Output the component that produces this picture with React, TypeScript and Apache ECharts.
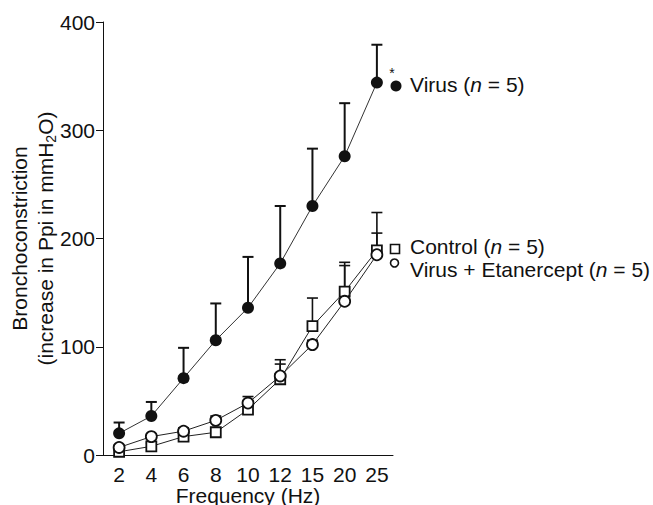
import React, { useEffect, useRef } from "react";
import * as echarts from "echarts";

const categories = ["2", "4", "6", "8", "10", "12", "15", "20", "25"];
const yTicks = [0, 100, 200, 300, 400];

const virusMean = [20, 36, 71, 106, 136, 177, 230, 276, 344];
const virusTop = [30, 49, 99, 140, 183, 230, 283, 325, 379];

const controlMean = [3, 8, 17, 21, 42, 70, 119, 151, 189];
const controlTop = [6, 11, 20, 25, 50, 84, 145, 178, 224];

const etanMean = [7, 17, 22, 32, 48, 73, 102, 142, 185];
const etanTop = [9, 19, 25, 36, 54, 88, 106, 175, 205];

const FONT = "'Liberation Sans', Arial, Helvetica, sans-serif";
const FS = 21;

function errorSeries(name: string, mean: number[], top: number[], width: number) {
  return {
    type: "custom",
    name,
    z: 1,
    silent: true,
    data: mean.map((m, i) => [i, m, top[i]]),
    renderItem: (_params: any, api: any) => {
      const i = api.value(0);
      const p0 = api.coord([i, api.value(1)]);
      const p1 = api.coord([i, api.value(2)]);
      const half = 5.5;
      return {
        type: "group",
        children: [
          {
            type: "line",
            shape: { x1: p0[0], y1: p0[1], x2: p1[0], y2: p1[1] },
            style: { stroke: "#111", lineWidth: width },
          },
          {
            type: "line",
            shape: { x1: p1[0] - half, y1: p1[1], x2: p1[0] + half, y2: p1[1] },
            style: { stroke: "#111", lineWidth: width },
          },
        ],
      };
    },
  };
}

export default function App() {
  const ref = useRef<HTMLDivElement>(null);
  useEffect(() => {
    if (!ref.current) return;
    const chart = echarts.init(ref.current, null, { renderer: "svg" });
    const rich = { i: { fontStyle: "italic", fontSize: FS, fontFamily: FONT, color: "#111" } };
    chart.setOption({
      animation: false,
      backgroundColor: "#fff",
      textStyle: { fontFamily: FONT },
      grid: { left: 103, right: 260, top: 22, bottom: 50, containLabel: false, outerBoundsMode: "none" },
      xAxis: {
        type: "category",
        data: categories,
        boundaryGap: true,
        axisLine: { lineStyle: { color: "#111", width: 1 } },
        axisTick: { alignWithLabel: true, length: 5, lineStyle: { color: "#111" } },
        axisLabel: { color: "#111", fontSize: FS, lineHeight: 20, margin: 9, fontFamily: FONT, interval: 0 },
        name: "Frequency (Hz)",
        nameLocation: "middle",
        nameGap: 30,
        nameMoveOverlap: false,
        nameTextStyle: { color: "#111", fontSize: FS, lineHeight: 20, fontFamily: FONT },
        splitLine: { show: false },
      },
      yAxis: {
        type: "value",
        min: 0,
        max: 400,
        interval: 100,
        axisLine: { show: true, lineStyle: { color: "#111", width: 1 } },
        axisTick: { show: true, length: 7, lineStyle: { color: "#111" } },
        axisLabel: {
          color: "#111",
          fontSize: FS,
          margin: 8,
          fontFamily: FONT,
          customValues: yTicks,
        },
        splitLine: { show: false },
        name: "{a|Bronchoconstriction}\n{a|(increase in Ppi in mmH}{s|2}{a|O)}",
        nameLocation: "middle",
        nameRotate: 90,
        nameGap: 45,
        nameMoveOverlap: false,
        nameTextStyle: {
          color: "#111",
          fontSize: FS,
          fontFamily: FONT,
          rich: {
            a: { fontSize: FS, lineHeight: 26, color: "#111", fontFamily: FONT },
            s: { fontSize: 14, lineHeight: 18, verticalAlign: "bottom", color: "#111", fontFamily: FONT },
          },
        },
      },
      series: [
        errorSeries("virusErr", virusMean, virusTop, 2),
        errorSeries("controlErr", controlMean, controlTop, 1.6),
        errorSeries("etanErr", etanMean, etanTop, 1.6),
        {
          type: "line",
          name: "Virus + Etanercept",
          data: etanMean,
          z: 3,
          symbol: "circle",
          symbolSize: 11,
          showAllSymbol: true,
          itemStyle: { color: "#fff", borderColor: "#111", borderWidth: 1.8 },
          lineStyle: { color: "#222", width: 1 },
        },
        {
          type: "line",
          name: "Control",
          data: controlMean,
          z: 2,
          symbol: "rect",
          symbolSize: 10,
          showAllSymbol: true,
          itemStyle: { color: "#fff", borderColor: "#111", borderWidth: 1.8 },
          lineStyle: { color: "#222", width: 1 },
        },
        {
          type: "line",
          name: "Virus",
          data: virusMean,
          z: 4,
          symbol: "circle",
          symbolSize: 12,
          showAllSymbol: true,
          itemStyle: { color: "#111" },
          lineStyle: { color: "#333", width: 1 },
        },
      ],
      graphic: [
        { type: "circle", shape: { cx: 396, cy: 86, r: 5.5 }, style: { fill: "#111" } },
        {
          type: "text",
          x: 392,
          y: 73,
          style: { text: "*", fontSize: 14, fontFamily: FONT, fill: "#111", align: "center", verticalAlign: "middle" },
        },
        {
          type: "text",
          x: 410,
          y: 84,
          style: { text: "Virus ({i|n} = 5)", rich, fontSize: FS, fontFamily: FONT, fill: "#111", verticalAlign: "middle" },
        },
        {
          type: "rect",
          shape: { x: 390.5, y: 244.5, width: 9, height: 9 },
          style: { fill: "#fff", stroke: "#111", lineWidth: 1.6 },
        },
        {
          type: "text",
          x: 410,
          y: 246,
          style: { text: "Control ({i|n} = 5)", rich, fontSize: FS, fontFamily: FONT, fill: "#111", verticalAlign: "middle" },
        },
        {
          type: "circle",
          shape: { cx: 394.5, cy: 263, r: 4 },
          style: { fill: "#fff", stroke: "#111", lineWidth: 1.6 },
        },
        {
          type: "text",
          x: 410,
          y: 269,
          style: {
            text: "Virus + Etanercept ({i|n} = 5)",
            rich,
            fontSize: FS,
            fontFamily: FONT,
            fill: "#111",
            verticalAlign: "middle",
          },
        },
      ],
    });
    return () => chart.dispose();
  }, []);
  return <div ref={ref} style={{ width: 653, height: 505, position: "absolute", left: 0, top: 0 }} />;
}
